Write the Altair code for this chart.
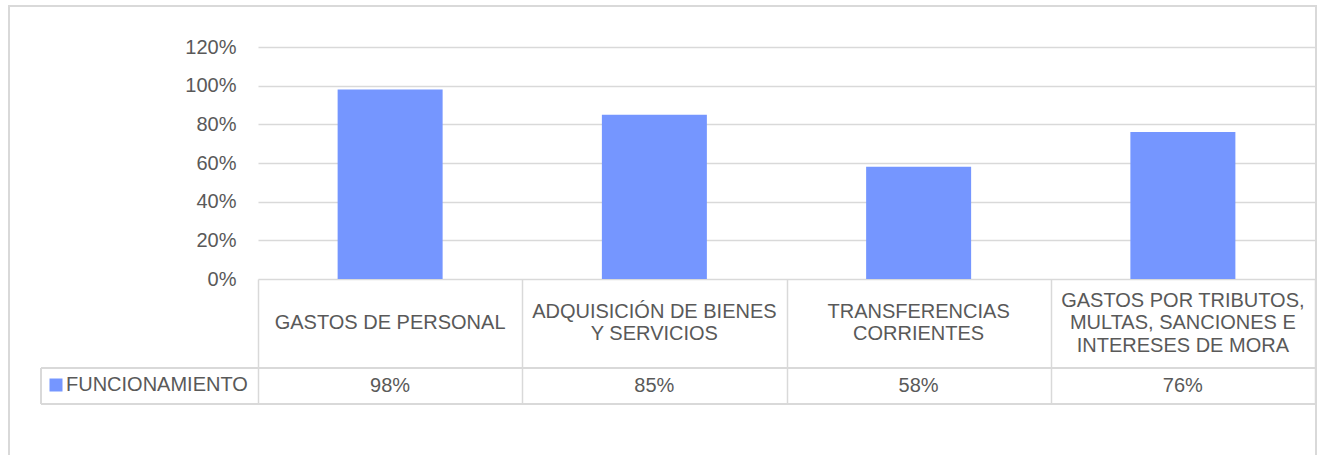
import altair as alt
import pandas as pd

categories = [
    "GASTOS DE PERSONAL",
    "ADQUISICIÓN DE BIENES\nY SERVICIOS",
    "TRANSFERENCIAS\nCORRIENTES",
    "GASTOS POR TRIBUTOS,\nMULTAS, SANCIONES E\nINTERESES DE MORA",
]
values = [0.98, 0.85, 0.58, 0.76]
series_name = "FUNCIONAMIENTO"
y_ticks = [0, 0.2, 0.4, 0.6, 0.8, 1.0, 1.2]

BAR = "#7596FF"
GRID = "#D9D9D9"
TXT = "#595959"
FONT = "Liberation Sans Narrow, Arial Narrow, Liberation Sans"
FS = 20
LH = 22.5

df = pd.DataFrame({"cat": categories, "val": values, "serie": [series_name] * len(values)})

xs = alt.Scale(domain=categories, paddingInner=0, paddingOuter=0)
ys = alt.Scale(domain=[0, 1.2])

base = alt.Chart(df)

bars = base.mark_bar(size=105).encode(
    x=alt.X("cat:N", scale=xs, sort=categories,
            axis=alt.Axis(title=None, labels=False, domain=False, grid=False,
                          ticks=True, tickBand="extent", tickSize=125,
                          tickColor=GRID, tickWidth=1.5)),
    y=alt.Y("val:Q", scale=ys,
            axis=alt.Axis(title=None, values=y_ticks, format=".0%", domain=False,
                          ticks=False, labelPadding=22, grid=True, gridColor=GRID,
                          gridWidth=1.5, labelFont=FONT, labelFontSize=FS,
                          labelColor=TXT)),
    color=alt.Color("serie:N", scale=alt.Scale(domain=[series_name], range=[BAR]),
                    legend=alt.Legend(title=None, orient="none", legendX=-212, legendY=328,
                                      symbolType="square", symbolSize=169,
                                      symbolStrokeWidth=0, labelOffset=0, labelLimit=0,
                                      labelFont=FONT, labelFontSize=FS,
                                      labelColor=TXT, padding=0)),
)

cat_text = base.transform_calculate(
    nlines="length(split(datum.cat, '\\n'))"
).transform_calculate(
    ty=f"276 - (datum.nlines - 1) * {LH} / 2"
).mark_text(lineBreak="\n", lineHeight=LH, baseline="middle",
            align="center", font=FONT, fontSize=FS, color=TXT).encode(
    x=alt.X("cat:N", scale=xs, sort=categories),
    y=alt.Y("ty:Q", scale=None),
    text="cat:N",
)

val_text = base.mark_text(baseline="middle", align="center", font=FONT,
                          fontSize=FS, color=TXT).encode(
    x=alt.X("cat:N", scale=xs, sort=categories),
    y=alt.value(339),
    text=alt.Text("val:Q", format=".0%"),
)

row_line1 = base.mark_rule(color=GRID, strokeWidth=1.5).encode(
    x=alt.value(-217), x2=alt.value(1057), y=alt.value(321))
row_line2 = base.mark_rule(color=GRID, strokeWidth=1.5).encode(
    x=alt.value(-217), x2=alt.value(1057), y=alt.value(357))
legend_left = base.mark_rule(color=GRID, strokeWidth=1.5).encode(
    x=alt.value(-217), y=alt.value(321), y2=alt.value(357))
outer = base.mark_rect(fill=None, stroke=GRID, strokeWidth=1.5).encode(
    x=alt.value(-249), x2=alt.value(1058), y=alt.value(-41), y2=alt.value(420))

chart = alt.layer(outer, bars, row_line1, row_line2, legend_left, cat_text, val_text).properties(
    width=1057, height=232,
    autosize=alt.AutoSizeParams(type="none"),
    padding={"left": 258, "top": 47, "right": 3, "bottom": 176},
    background="white",
).configure_view(stroke=None)

chart.save("out.html", embed_options={"renderer": "svg", "actions": False})
